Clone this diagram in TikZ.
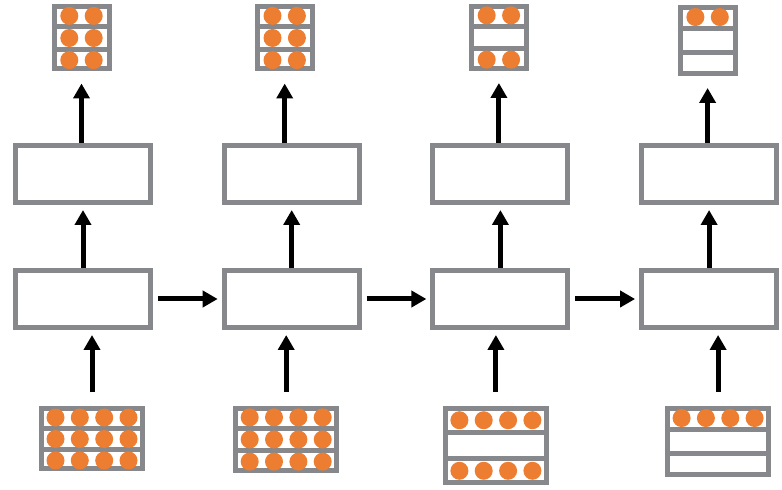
\documentclass[tikz,border=0pt]{standalone}
\usepackage{tikz}
\usetikzlibrary{arrows.meta,positioning,calc}
\definecolor{framegray}{HTML}{86888B}
\definecolor{dotorange}{HTML}{ED7D31}
\newcommand{\stackrows}[3]{%
  \foreach \k in {1,2}
    \draw[framegray,line width=5pt] ($(#1.north west)!\k/3!(#1.south west)$) -- ($(#1.north east)!\k/3!(#1.south east)$);
  \foreach \f in {#3}
    \foreach \dx in {#2}
      \fill[dotorange] ($(#1.north)!\f!(#1.south)+(\dx,0)$) circle[radius=9pt];
}

\begin{document}
\begin{tikzpicture}[x=1pt,y=1pt,>={Triangle[length=15pt,width=16pt]},node distance=208.7pt,on grid]
\tikzset{cell/.style={draw=framegray,line width=5pt,minimum width=135pt,minimum height=57pt,inner sep=0pt}}
\tikzset{stack/.style={draw=framegray,line width=5pt,minimum width=55pt,minimum height=62pt,inner sep=0pt}}
\tikzset{widestack/.style={stack,minimum width=101pt,minimum height=60pt}}
\tikzset{flow/.style={->,line width=5pt,shorten >=5pt}}
\useasboundingbox (0,0) rectangle (782,490);
  \node[cell]           (h1) at (83,191)              {};
  \node[cell]           (h2) [right=of h1]            {};
  \node[cell]           (h3) [right=of h2]            {};
  \node[cell]           (h4) [right=of h3]            {};
  \node[cell]           (y1) [above=125pt of h1]      {};
  \node[cell]           (y2) [above=125pt of h2]      {};
  \node[cell]           (y3) [above=125pt of h3]      {};
  \node[cell]           (y4) [above=125pt of h4]      {};
  \node[stack]          (o1) [above=136pt of y1,xshift=-1.5pt]   {};
  \node[stack]          (o2) [above=136pt of y2,xshift=-7pt]     {};
  \node[stack]          (o3) [above=136.5pt of y3,xshift=-1.5pt] {};
  \node[stack,minimum height=66pt] (o4) [above=133.5pt of y4,xshift=-1.5pt] {};
  \node[widestack]      (x1) [below=140pt of h1,xshift=9pt]      {};
  \node[widestack,minimum height=62pt] (x2) [below=140.5pt of h2,xshift=-5.5pt] {};
  \node[widestack,minimum height=74pt] (x3) [below=146.5pt of h3,xshift=-4.5pt] {};
  \node[widestack,minimum height=66pt] (x4) [below=142.5pt of h4,xshift=9pt]    {};
\stackrows{o1}{-12.2,12.2}{0.17,0.5,0.83}
\stackrows{o2}{-12.2,12.2}{0.17,0.5,0.83}
\stackrows{o3}{-12.2,12.2}{0.17,0.83}
\stackrows{o4}{-12.2,12.2}{0.17}
\stackrows{x1}{-36.5,-12.2,12.2,36.5}{0.17,0.5,0.83}
\stackrows{x2}{-36.5,-12.2,12.2,36.5}{0.17,0.5,0.83}
\stackrows{x3}{-36.5,-12.2,12.2,36.5}{0.18,0.82}
\stackrows{x4}{-36.5,-12.2,12.2,36.5}{0.17}
\path (x1.north) edge [flow,shorten <=14pt] (x1.north |- h1.south)
      (x2.north) edge [flow,shorten <=14pt] (x2.north |- h2.south)
      (x3.north) edge [flow,shorten <=14pt] (x3.north |- h3.south)
      (x4.north) edge [flow,shorten <=14pt] (x4.north |- h4.south);
\path (h1.north) edge [flow] (y1.south)
      (h2.north) edge [flow] (y2.south)
      (h3.north) edge [flow] (y3.south)
      (h4.north) edge [flow] (y4.south);
\path (o1.south |- y1.north) edge [flow,shorten >=12pt] (o1.south)
      (o2.south |- y2.north) edge [flow,shorten >=12pt] (o2.south)
      (o3.south |- y3.north) edge [flow,shorten >=12pt] (o3.south)
      (o4.south |- y4.north) edge [flow,shorten >=12pt] (o4.south);
\path (h1.east) edge [flow,shorten <=5pt,shorten >=4pt] (h2.west)
      (h2.east) edge [flow,shorten <=5pt,shorten >=4pt] (h3.west)
      (h3.east) edge [flow,shorten <=5pt,shorten >=4pt] (h4.west);
\end{tikzpicture}
\end{document}
